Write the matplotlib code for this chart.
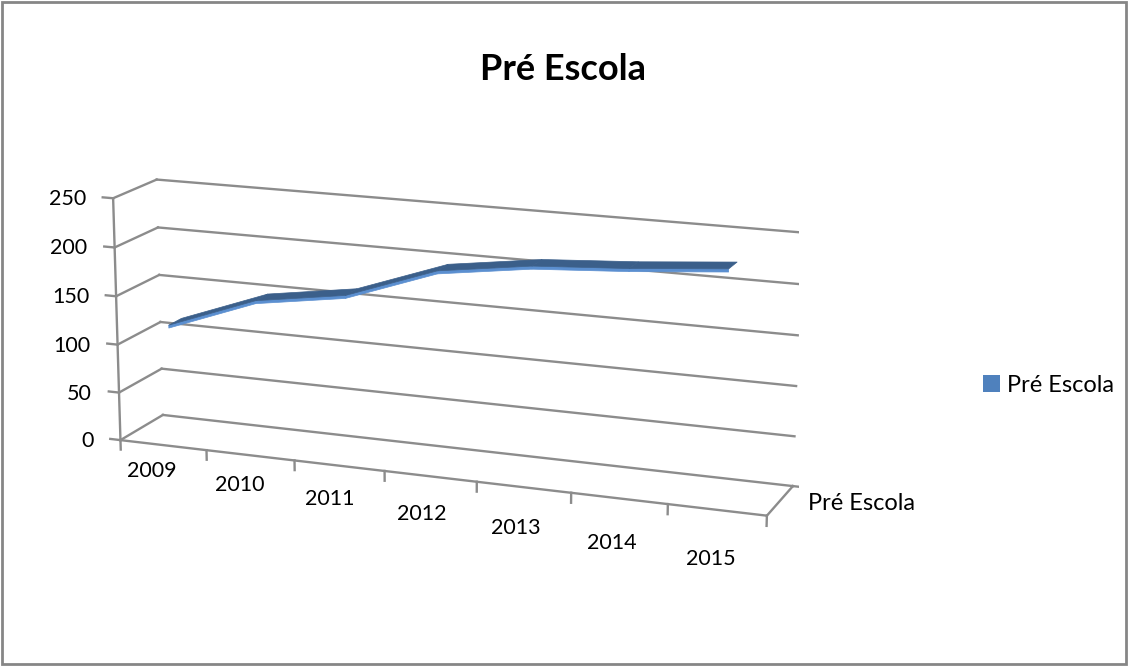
import numpy as np
import matplotlib
matplotlib.use("Agg")
import matplotlib.pyplot as plt
from matplotlib.patches import Rectangle, Patch
from mpl_toolkits.mplot3d import proj3d
from mpl_toolkits.mplot3d.art3d import Poly3DCollection

plt.rcParams['font.family'] = ['Lato', 'DejaVu Sans']

years = ['2009', '2010', '2011', '2012', '2013', '2014', '2015']
values = [120, 154, 168, 201, 214, 220, 228]
series_name = 'Pré Escola'
z_ticks = [0, 50, 100, 150, 200, 250]

GRID = '#8c8c8c'
TOP = '#3b5f8a'
FRONT = '#5b8fd0'
W, H = 1128, 666

fig = plt.figure(figsize=(W / 100, H / 100), dpi=100)
rect = [0.0, -0.04, 0.78, 1.0]
ax = fig.add_axes(rect, projection='3d', computed_zorder=False)
ax.set_proj_type('persp', focal_length=0.75)
ax.view_init(elev=15, azim=-69)
ax.set_box_aspect((7, 1, 2.6))
ax.set_axis_off()
n = len(years)
zmax = z_ticks[-1]
ax.set_xlim(0, n)
ax.set_ylim(0, 1)
ax.set_zlim(0, zmax)

# walls: back wall + left wall gridlines, value ticks
for z in z_ticks:
    ax.plot([0, n], [1, 1], [z, z], color=GRID, lw=1.7, zorder=1)
    ax.plot([0, 0], [0, 1], [z, z], color=GRID, lw=1.7, zorder=1)
    ax.plot([0, -0.12], [0, 0], [z, z], color=GRID, lw=1.7, zorder=1)

# value axis, floor front edge, depth edge
ax.plot([0, 0], [0, 0], [0, zmax], color=GRID, lw=1.7, zorder=1)
ax.plot([0, n], [0, 0], [0, 0], color=GRID, lw=1.7, zorder=1)
ax.plot([n, n], [0, 1], [0, 0], color=GRID, lw=1.7, zorder=1)
for k in range(n + 1):
    ax.plot([k, k], [0, 0], [0, -10], color=GRID, lw=1.7, zorder=1)
ax.plot([n, n + 0.1], [1, 1], [0, 0], color=GRID, lw=1.7, zorder=1)

# ribbon
xs = np.arange(n) + 0.5
y0, y1, h = 0.2, 0.5, 3
tops, fronts = [], []
for i in range(n - 1):
    xa, xb = xs[i], xs[i + 1]
    za, zb = values[i], values[i + 1]
    fronts.append([(xa, y0, za - h), (xb, y0, zb - h), (xb, y0, zb), (xa, y0, za)])
    tops.append([(xa, y0, za), (xb, y0, zb), (xb, y1, zb), (xa, y1, za)])
ax.add_collection3d(Poly3DCollection(fronts, facecolor=FRONT, edgecolor=FRONT, lw=0.5, zorder=3))
ax.add_collection3d(Poly3DCollection(tops, facecolor=TOP, edgecolor=TOP, lw=0.5, zorder=4))


def to_px(x, y, z):
    px, py, _ = proj3d.proj_transform(np.atleast_1d(x), np.atleast_1d(y), np.atleast_1d(z), ax.get_proj())
    d = ax.transData.transform(np.column_stack([px, py]))
    return np.column_stack([d[:, 0], H - d[:, 1]])  # image coords, y down


# fit the box corners onto where they sit in the original picture
cx = [0, 0, 0, 0, n, n, n]
cy = [0, 0, 1, 1, 1, 1, 0]
cz = [0, zmax, 0, zmax, zmax, 0, 0]
target = np.array([[123, 440], [108, 200], [165, 415], [157, 185],
                   [800, 225], [793, 484], [768, 518]], float)
fig.canvas.draw()
p = to_px(cx, cy, cz)
c = np.array([(rect[0] + rect[2] / 2) * W, H - (rect[1] + rect[3] / 2) * H])
q = p - c
s = np.sum((q - q.mean(0)) * (target - target.mean(0))) / np.sum((q - q.mean(0)) ** 2)
t = (target - c - s * q).mean(0)
nw, nh = rect[2] * s, rect[3] * s
ncx = (c[0] + t[0]) / W
ncy = 1 - (c[1] + t[1]) / H
ax.set_position([ncx - nw / 2, ncy - nh / 2, nw, nh])
fig.canvas.draw()

# labels placed from the projected axis points
for z in z_ticks:
    px, py = to_px(0, 0, z)[0]
    fig.text((px - 27) / W, 1 - (py + 1) / H, str(z), ha='right', va='center', fontsize=15.5)
for k, lab in enumerate(years):
    px, py = to_px(k + 0.5, 0, 0)[0]
    fig.text((px - 11 + 0.8 * k) / W, 1 - (py + 26 + 3.8 * k) / H, lab,
             ha='center', va='center', fontsize=15.5)
px, py = to_px(n, 0.5, 0)[0]
fig.text((px + 28) / W, 1 - (py + 3) / H, series_name, ha='left', va='center', fontsize=17)

fig.suptitle(series_name, x=563 / W, y=1 - 70 / H, va='center', fontsize=26, fontweight='bold')
fig.legend(handles=[Patch(facecolor='#4f81bd', label=series_name)], loc='center left',
           bbox_to_anchor=(962 / W, 1 - 385 / H), frameon=False, fontsize=17,
           handlelength=0.7, handleheight=0.7, handletextpad=0.3)
fig.add_artist(Rectangle((0.002, 0.003), 0.996, 0.994, transform=fig.transFigure,
                         fill=False, ec='#868686', lw=2))
fig.savefig('out.png', dpi=100)
